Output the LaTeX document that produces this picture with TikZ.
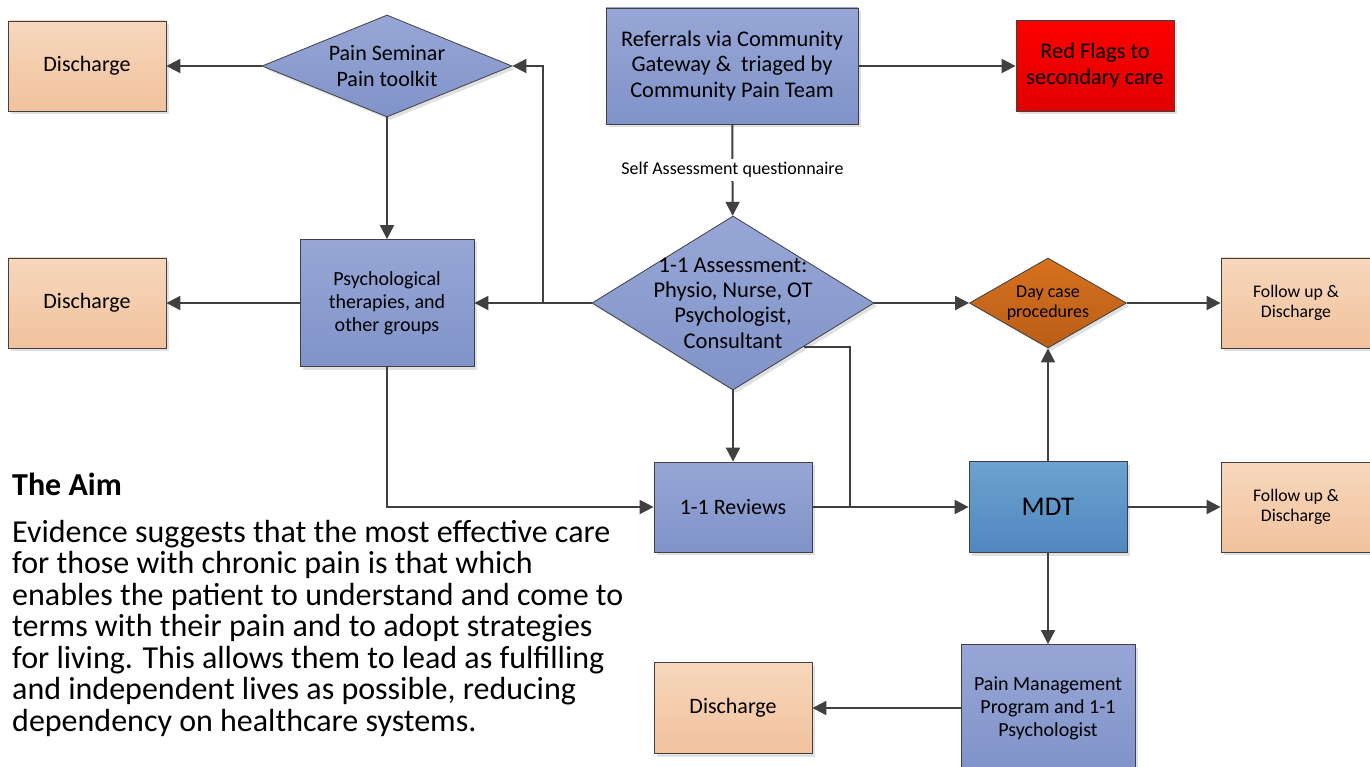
\documentclass[tikz,border=0pt]{standalone}
\usepackage{fontspec}
\setmainfont{Carlito}
\usetikzlibrary{shapes.geometric, arrows.meta, shadows}
\definecolor{linegray}{HTML}{404040}
\definecolor{bluetop}{HTML}{97A6D6}
\definecolor{bluebot}{HTML}{8093C8}
\definecolor{peachtop}{HTML}{F7D7BC}
\definecolor{peachbot}{HTML}{F1C29D}
\definecolor{redtop}{HTML}{FF0000}
\definecolor{redbot}{HTML}{DF0000}
\definecolor{daytop}{HTML}{D7711F}
\definecolor{daybot}{HTML}{B95E17}
\definecolor{mdttop}{HTML}{6CA2D0}
\definecolor{mdtbot}{HTML}{5087BF}

\tikzset{
  flowshape/.style={draw=linegray, line width=0.8pt, align=center, inner sep=2pt,
    drop shadow={shadow xshift=3pt, shadow yshift=-3pt, fill=black, opacity=0.12}},
  bluebox/.style={flowshape, top color=bluetop, bottom color=bluebot},
  peachbox/.style={flowshape, top color=peachtop, bottom color=peachbot},
  redbox/.style={flowshape, top color=redtop, bottom color=redbot},
  mdtbox/.style={flowshape, top color=mdttop, bottom color=mdtbot},
  bluediamond/.style={bluebox, diamond, inner sep=0pt},
  daydiamond/.style={flowshape, diamond, inner sep=0pt, top color=daytop, bottom color=daybot},
  flowarrow/.style={draw=linegray, line width=2pt, -{Triangle[length=14pt, width=14pt]}},
  flowline/.style={draw=linegray, line width=2pt}
}

\begin{document}
\begin{tikzpicture}[x=1pt, y=-1pt]
  \clip (0,0) rectangle (1370,767);
  \useasboundingbox (0,0) rectangle (1370,767);

  % Top row
  \node[peachbox, minimum width=158pt, minimum height=90pt, font=\fontsize{22}{26}\selectfont] (dischargeA) at (87,66) {Discharge};
  \node[bluediamond, minimum width=250pt, minimum height=102pt,
    label={[align=center, font=\fontsize{22}{26}\selectfont]center:Pain Seminar\\Pain toolkit}] (seminar) at (387,66) {};
  \node[bluebox, minimum width=252pt, minimum height=116pt, font=\fontsize{22.4}{25.8}\selectfont] (referral) at (732,66) {Referrals via Community\\Gateway \&\ \ triaged by\\Community Pain Team};
  \node[redbox, minimum width=158pt, minimum height=91pt, font=\fontsize{22.4}{26}\selectfont] (redflag) at (1095,66) {Red Flags to\\secondary care};

  % Middle row
  \node[peachbox, minimum width=158pt, minimum height=90pt, font=\fontsize{22}{26}\selectfont] (dischargeB) at (87,303) {Discharge};
  \node[bluebox, minimum width=174pt, minimum height=127pt, font=\fontsize{20}{23}\selectfont] (psych) at (387,303) {Psychological\\therapies, and\\other groups};
  \node[bluediamond, minimum width=282pt, minimum height=174pt,
    label={[align=center, font=\fontsize{22.5}{25.3}\selectfont]center:1-1 Assessment:\\Physio, Nurse, OT\\Psychologist,\\Consultant}] (assess) at (733,303) {};
  \node[daydiamond, minimum width=157pt, minimum height=90pt,
    label={[align=center, font=\fontsize{18}{20.5}\selectfont]center:Day case\\procedures}] (daycase) at (1048,303) {};
  \node[peachbox, minimum width=150pt, minimum height=90pt, font=\fontsize{17.7}{20.5}\selectfont] (followA) at (1296,303) {Follow up \&\\Discharge};

  % Lower rows
  \node[bluebox, minimum width=158pt, minimum height=90pt, font=\fontsize{22}{26}\selectfont] (review) at (733,507) {1-1 Reviews};
  \node[mdtbox, minimum width=158pt, minimum height=91pt, font=\fontsize{27}{30}\selectfont] (mdt) at (1048,507) {MDT};
  \node[peachbox, minimum width=150pt, minimum height=90pt, font=\fontsize{17.7}{20.5}\selectfont] (followB) at (1296,507) {Follow up \&\\Discharge};
  \node[peachbox, minimum width=158pt, minimum height=91pt, font=\fontsize{22}{26}\selectfont] (dischargeC) at (733,708) {Discharge};
  \node[bluebox, minimum width=174pt, minimum height=127pt, font=\fontsize{20}{23}\selectfont] (program) at (1048,708) {Pain Management\\Program and 1-1\\Psychologist};

  % Knee points
  \coordinate (branch) at (543,303);
  \coordinate (knee) at (850,507);

  % Connectors
  \draw[flowarrow] (referral) -- (redflag);
  \draw[flowarrow] (referral) -- node[fill=white, inner sep=3pt, font=\fontsize{18}{20}\selectfont] (selfq) {Self Assessment questionnaire} (assess);
  \draw[flowarrow] (seminar) -- (dischargeA);
  \draw[flowarrow] (seminar) -- (psych);
  \draw[flowarrow] (assess) -- (psych);
  \draw[flowarrow] (branch) |- (seminar.east);
  \draw[flowarrow] (psych) -- (dischargeB);
  \draw[flowarrow] (assess) -- (daycase);
  \draw[flowarrow] (daycase) -- (followA);
  \draw[flowarrow] (assess) -- (review);
  \draw[flowarrow] (psych.south) |- (review.west);
  \draw[flowarrow] (review) -- (mdt);
  \draw[flowline] (assess.south east) -| (knee);
  \draw[flowarrow] (mdt) -- (daycase);
  \draw[flowarrow] (mdt) -- (followB);
  \draw[flowarrow] (mdt) -- (program);
  \draw[flowarrow] (program) -- (dischargeC);

  % The aim text
  \node[anchor=base west, inner sep=0pt, font=\fontsize{32}{34}\selectfont\bfseries] (aimhead) at (12,495) {The Aim};
  \node[anchor=north west, inner sep=0pt, align=left, font=\fontsize{32}{31.5}\selectfont] (aimtext) at (12,520) {Evidence suggests that the most effective care\\for those with chronic pain is that which\\enables the patient to understand and come to\\terms with their pain and to adopt strategies\\for living. This allows them to lead as fulfilling\\and independent lives as possible, reducing\\dependency on healthcare systems.};
\end{tikzpicture}
\end{document}
